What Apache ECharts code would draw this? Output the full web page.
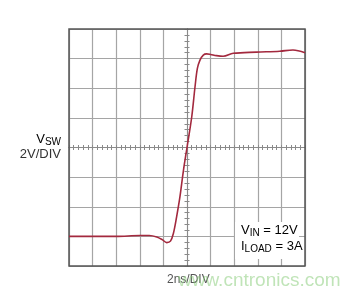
<!DOCTYPE html>
<html>
<head>
<meta charset="utf-8">
<script src="https://cdn.jsdelivr.net/npm/echarts@6/dist/echarts.min.js"></script>
<style>
html,body{margin:0;padding:0;background:#fff;}
#chart{width:361px;height:296px;}
</style>
</head>
<body>
<div id="chart"></div>
<script>
// time relative to trigger (ns), 2ns/DIV
var timeNs = [-10,-8,-6,-4,-3.2,-2.56,-2.1,-1.72,-1.4,-1.16,-0.88,-0.6,-0.3,0,0.4,0.68,0.88,1.1,1.38,1.66,2,2.5,3.06,3.92,5.88,7.86,8.98,10];
// V_SW relative to screen centre (V), 2V/DIV
var vsw = [-6,-6,-6,-5.94,-5.94,-6.04,-6.22,-6.42,-6.32,-5.82,-4.68,-3.34,-1.54,0,2.06,4.1,5.34,5.9,6.24,6.32,6.28,6.2,6.16,6.36,6.44,6.5,6.58,6.4];
var xTitle = '2ns/DIV';
var yTitleTop = 'V';
var yTitleSub = 'SW';
var yTitleBottom = '2V/DIV';
var noteLines = [['V','IN',' = 12V'],['I','LOAD',' = 3A']];
var watermark = 'www.cntronics.com';

var FONT = "'Liberation Sans Narrow','Liberation Sans',Arial,sans-serif";
var data = timeNs.map(function(t,i){return [t, vsw[i]];});

var chart = echarts.init(document.getElementById('chart'), null, {renderer:'canvas'});
var gridColor = '#a5a5a5';
var tickColor = '#8a8a8a';
function xAx(pos, inside, split){
  return {type:'value', position:pos, min:-10, max:10, interval:2,
    axisLine:{show:true, onZero:true, lineStyle:{color:tickColor, width:1}},
    axisTick:{show:true, inside:inside, length:2.5, lineStyle:{color:tickColor}},
    minorTick:{show:true, splitNumber:5, length:2.5, lineStyle:{color:tickColor}},
    axisLabel:{show:false},
    splitLine:{show:split, lineStyle:{color:gridColor, width:1.2}}};
}
function yAx(pos, inside, split){
  return {type:'value', position:pos, min:-8, max:8, interval:2,
    axisLine:{show:true, onZero:true, lineStyle:{color:tickColor, width:1}},
    axisTick:{show:true, inside:inside, length:2.5, lineStyle:{color:tickColor}},
    minorTick:{show:true, splitNumber:5, length:2.5, lineStyle:{color:tickColor}},
    axisLabel:{show:false},
    splitLine:{show:split, lineStyle:{color:gridColor, width:1.2}}};
}
var richSub = {
  b:{fontFamily:FONT, fontSize:13, color:'#333'},
  s:{fontFamily:FONT, fontSize:10, color:'#333', verticalAlign:'bottom', padding:[6,0,0,0]}
};
chart.setOption({
  animation:false,
  backgroundColor:'#fff',
  grid:{left:69, top:29, width:236, height:237, show:true, borderColor:'#555', borderWidth:1.5, backgroundColor:'transparent', z:3},
  xAxis:[xAx('bottom', false, true), xAx('top', false, false)],
  yAxis:[yAx('left', false, true), yAx('right', false, false)],
  series:[{
    type:'line', xAxisIndex:0, yAxisIndex:0, data:data, smooth:0.35,
    showSymbol:false, z:5,
    lineStyle:{color:'#a3293e', width:1.6}
  }],
  graphic:[
    {type:'rect', left:235, top:222, shape:{width:64, height:37}, style:{fill:'#fff'}, z:4},
    {type:'text', left:241, top:224, z:6, style:{text:'{b|'+noteLines[0][0]+'}{s|'+noteLines[0][1]+'}{b|'+noteLines[0][2]+'}', rich:richSub}},
    {type:'text', left:241, top:240, z:6, style:{text:'{b|'+noteLines[1][0]+'}{s|'+noteLines[1][1]+'}{b|'+noteLines[1][2]+'}', rich:richSub}},
    {type:'text', right:300, top:133, z:6, style:{text:'{b|'+yTitleTop+'}{s|'+yTitleSub+'}', rich:richSub}},
    {type:'text', right:300, top:148, z:6, style:{text:yTitleBottom, fontFamily:FONT, fontSize:13, fill:'#333'}},
    {type:'text', left:167, top:274, z:6, style:{text:xTitle, fontFamily:FONT, fontSize:12, fill:'#555'}},
    {type:'text', left:178, top:271, z:7, style:{text:watermark, fontFamily:"'Liberation Sans',Arial,sans-serif", fontSize:19, fill:'rgba(140,205,125,0.55)'}}
  ]
});
</script>
</body>
</html>
